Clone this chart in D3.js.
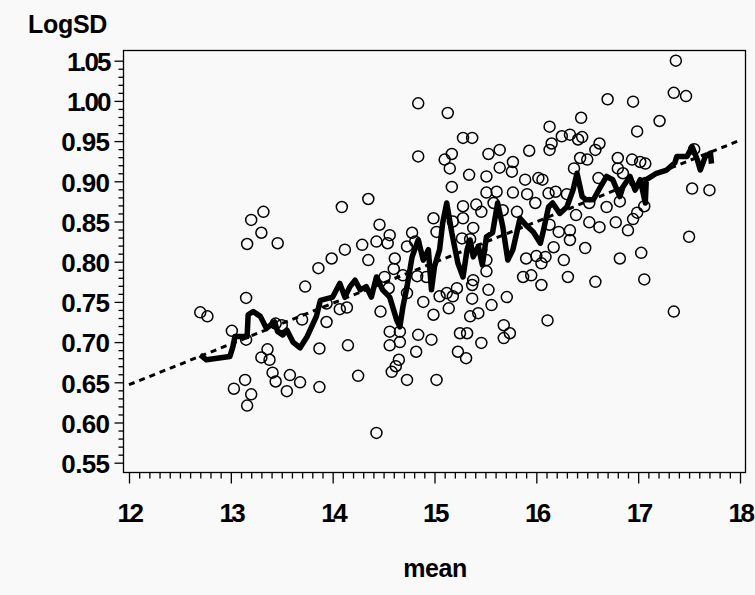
<!DOCTYPE html>
<html>
<head>
<meta charset="utf-8">
<script src="https://cdn.jsdelivr.net/npm/d3@7"></script>
<style>
  body { margin: 0; background: #f9f9f9; }
  text { font-family: "Liberation Sans", Arial, sans-serif; font-weight: bold; fill: #000; }
</style>
</head>
<body>
<div id="chart"></div>
<script>
// scatter data: mean vs LogSD
var meanVals = [12.70,12.77,13.15,13.01,13.15,13.03,13.14,13.20,13.16,13.30,13.38,13.36,13.41,13.44,13.44,13.50,13.58,13.68,13.55,13.70,
  13.73,13.86,13.87,13.87,13.94,13.94,13.16,13.20,13.30,13.32,13.46,
  14.84,15.10,15.17,15.15,15.34,15.53,15.51,15.64,15.77,15.76,15.17,15.51,15.61,15.77,14.35,14.09,15.28,15.41,15.46,
  15.58,14.99,15.18,15.28,15.38,15.02,14.46,14.56,14.78,14.43,14.54,14.29,14.73,14.81,14.12,13.99,14.35,14.61,14.60,14.83,
  14.69,14.51,14.92,15.51,15.51,15.46,15.35,15.27,15.38,15.37,15.22,15.12,15.18,15.05,14.14,14.07,14.47,14.89,14.73,14.55,
  14.99,15.14,15.37,15.53,15.71,15.56,15.43,15.35,14.56,14.66,14.84,15.25,15.32,15.46,15.68,15.74,15.68,14.97,14.15,14.56,14.66,
  17.37,17.35,17.47,16.70,16.95,17.21,16.44,16.99,16.13,16.25,16.33,16.41,16.45,16.15,16.13,16.62,16.58,15.93,15.64,
  16.43,16.50,16.37,16.80,16.94,17.02,17.07,16.80,16.85,16.61,15.89,16.02,16.06,15.91,16.12,16.19,16.30,15.99,15.67,15.81,
  16.69,16.52,17.53,17.70,16.39,16.52,16.62,16.78,16.90,16.95,16.99,17.06,17.50,16.13,16.22,16.33,16.33,16.48,16.17,15.90,
  16.00,16.09,16.05,16.27,16.82,17.03,15.87,15.95,16.05,16.31,16.58,17.06,16.11,17.35,16.82,17.55,
  14.84,15.13,15.28,15.37,14.43,15.02,14.58,14.62,14.65,14.73,14.82,15.31,15.23,14.25];
var logSDVals = [0.737,0.732,0.755,0.714,0.703,0.642,0.653,0.635,0.621,0.681,0.678,0.691,0.662,0.651,0.723,0.721,0.659,0.650,0.639,0.728,
  0.769,0.792,0.692,0.644,0.748,0.725,0.822,0.852,0.836,0.862,0.823,
  0.931,0.927,0.934,0.916,0.908,0.934,0.906,0.917,0.924,0.912,0.893,0.886,0.887,0.886,0.878,0.868,0.869,0.871,0.862,
  0.873,0.854,0.850,0.854,0.842,0.837,0.846,0.833,0.836,0.825,0.823,0.821,0.819,0.825,0.815,0.804,0.802,0.804,0.791,0.782,
  0.783,0.781,0.781,0.802,0.788,0.815,0.828,0.829,0.777,0.771,0.767,0.761,0.757,0.757,0.743,0.741,0.738,0.750,0.761,0.767,
  0.734,0.742,0.754,0.765,0.756,0.746,0.736,0.732,0.713,0.713,0.709,0.711,0.711,0.699,0.721,0.711,0.705,0.703,0.696,0.696,0.700,
  1.050,1.010,1.006,1.002,0.999,0.975,0.979,0.962,0.968,0.956,0.958,0.952,0.955,0.947,0.939,0.947,0.939,0.938,0.939,
  0.929,0.927,0.916,0.929,0.927,0.924,0.922,0.916,0.910,0.904,0.902,0.904,0.902,0.884,0.885,0.887,0.884,0.873,0.864,0.862,
  0.868,0.873,0.891,0.889,0.858,0.849,0.843,0.849,0.839,0.853,0.861,0.869,0.831,0.846,0.837,0.839,0.827,0.817,0.818,0.804,
  0.807,0.806,0.798,0.802,0.804,0.811,0.781,0.783,0.771,0.781,0.775,0.778,0.727,0.738,0.875,0.940,
  0.997,0.985,0.954,0.954,0.587,0.653,0.663,0.670,0.678,0.653,0.688,0.680,0.688,0.658];

// moving average (thick line)
var smoothMean = [12.70,12.76,12.99,13.02,13.04,13.16,13.17,13.22,13.29,13.35,13.43,13.46,13.51,13.55,13.61,13.68,13.75,13.84,13.88,
  14.00,14.07,14.12,14.17,14.22,14.27,14.33,14.38,14.43,14.49,14.56,14.63,14.66,14.69,14.73,14.78,14.84,14.89,14.94,14.97,
  15.00,15.05,15.08,15.12,15.17,15.23,15.28,15.32,15.35,15.38,15.43,15.47,15.51,15.57,15.62,15.67,15.72,15.77,15.84,15.91,
  15.97,16.04,16.07,16.12,16.16,16.23,16.30,16.36,16.40,16.45,16.49,16.56,16.63,16.69,16.75,16.82,16.85,16.92,16.97,17.02,
  17.07,17.08,17.18,17.28,17.36,17.38,17.48,17.53,17.58,17.61,17.66,17.71,17.72];
var smoothLogSD = [0.684,0.678,0.682,0.694,0.707,0.707,0.734,0.738,0.732,0.717,0.725,0.713,0.709,0.715,0.700,0.693,0.707,0.732,0.752,
  0.756,0.773,0.756,0.769,0.777,0.765,0.769,0.756,0.781,0.765,0.756,0.727,0.719,0.744,0.769,0.806,0.827,0.802,0.815,0.765,
  0.794,0.815,0.848,0.873,0.836,0.798,0.781,0.815,0.827,0.806,0.819,0.796,0.831,0.836,0.873,0.844,0.802,0.815,0.854,0.844,
  0.837,0.823,0.839,0.868,0.873,0.860,0.868,0.889,0.910,0.881,0.877,0.877,0.893,0.906,0.902,0.881,0.893,0.906,0.889,0.902,
  0.873,0.902,0.910,0.914,0.923,0.931,0.931,0.943,0.927,0.914,0.931,0.935,0.922];

// linear fit (dotted line)
var fitMean = [12, 18];
var fitLogSD = [0.647, 0.951];

var xTicks = [12, 13, 14, 15, 16, 17, 18];
var yTicks = [0.55, 0.60, 0.65, 0.70, 0.75, 0.80, 0.85, 0.90, 0.95, 1.00, 1.05];

var svgWidth = 755;
var svgHeight = 595;

var frame = { left: 123.5, top: 50.5, right: 745.5, bottom: 472.5 };

var svg = d3.select("#chart")
  .append("svg")
  .attr("width", svgWidth)
  .attr("height", svgHeight);

svg.append("rect")
  .attr("width", svgWidth)
  .attr("height", svgHeight)
  .attr("fill", "#f9f9f9");

var xScale = d3.scaleLinear().domain([12, 18]).range([129, 740]);
var yScale = d3.scaleLinear().domain([0.55, 1.05]).range([462.7, 60.7]);

// frame
svg.append("rect")
  .attr("x", frame.left)
  .attr("y", frame.top)
  .attr("width", frame.right - frame.left)
  .attr("height", frame.bottom - frame.top)
  .attr("fill", "none")
  .attr("stroke", "#000")
  .attr("stroke-width", 1.3);

// minor ticks
var xMinor = d3.range(120, 181).map(d => d / 10).filter(d => d % 1 !== 0);
var yMinor = d3.range(55, 106).map(d => d / 100).filter(d => Math.round(d * 100) % 5 !== 0);

svg.append("g")
  .attr("transform", `translate(0, ${frame.bottom})`)
  .call(d3.axisBottom(xScale).tickValues(xMinor).tickSize(6).tickFormat(""))
  .call(g => g.select(".domain").remove());

svg.append("g")
  .attr("transform", `translate(${frame.left}, 0)`)
  .call(d3.axisLeft(yScale).tickValues(yMinor).tickSize(5).tickFormat(""))
  .call(g => g.select(".domain").remove());

// major axes
var xAxis = svg.append("g")
  .attr("transform", `translate(0, ${frame.bottom})`)
  .call(d3.axisBottom(xScale).tickValues(xTicks).tickSize(11).tickPadding(20).tickFormat(d3.format("d")));
xAxis.select(".domain").remove();
xAxis.selectAll("text")
  .style("font-size", "26px")
  .style("letter-spacing", "-2.5px");

var yAxis = svg.append("g")
  .attr("transform", `translate(${frame.left}, 0)`)
  .call(d3.axisLeft(yScale).tickValues(yTicks).tickSize(9).tickPadding(5).tickFormat(d3.format(".2f")));
yAxis.select(".domain").remove();
yAxis.selectAll("text")
  .style("font-size", "26px")
  .style("letter-spacing", d => d >= 1 ? "-2px" : "-0.6px")
  .attr("dy", "0.38em");

svg.selectAll(".tick line").attr("stroke", "#000").attr("stroke-width", 1.3);

// fitted line
var fitLine = d3.line()
  .x((d, i) => xScale(fitMean[i]))
  .y(d => yScale(d));

svg.append("path")
  .datum(fitLogSD)
  .attr("d", fitLine)
  .attr("fill", "none")
  .attr("stroke", "#000")
  .attr("stroke-width", 3)
  .attr("stroke-dasharray", "6,5");

// scatter points
svg.append("g")
  .selectAll("circle")
  .data(meanVals)
  .enter()
  .append("circle")
  .attr("cx", d => xScale(d))
  .attr("cy", (d, i) => yScale(logSDVals[i]))
  .attr("r", 5.5)
  .attr("fill", "none")
  .attr("stroke", "#000")
  .attr("stroke-width", 1.5);

// moving average line
var smoothLine = d3.line()
  .x((d, i) => xScale(smoothMean[i]))
  .y(d => yScale(d));

svg.append("path")
  .datum(smoothLogSD)
  .attr("d", smoothLine)
  .attr("fill", "none")
  .attr("stroke", "#000")
  .attr("stroke-width", 5.5)
  .attr("stroke-linejoin", "round");

// axis titles
svg.append("text")
  .attr("x", 28)
  .attr("y", 33)
  .style("font-size", "25px")
  .style("letter-spacing", "-0.3px")
  .text("LogSD");

svg.append("text")
  .attr("x", 435)
  .attr("y", 577)
  .attr("text-anchor", "middle")
  .style("font-size", "25px")
  .style("letter-spacing", "-0.5px")
  .text("mean");
</script>
</body>
</html>
